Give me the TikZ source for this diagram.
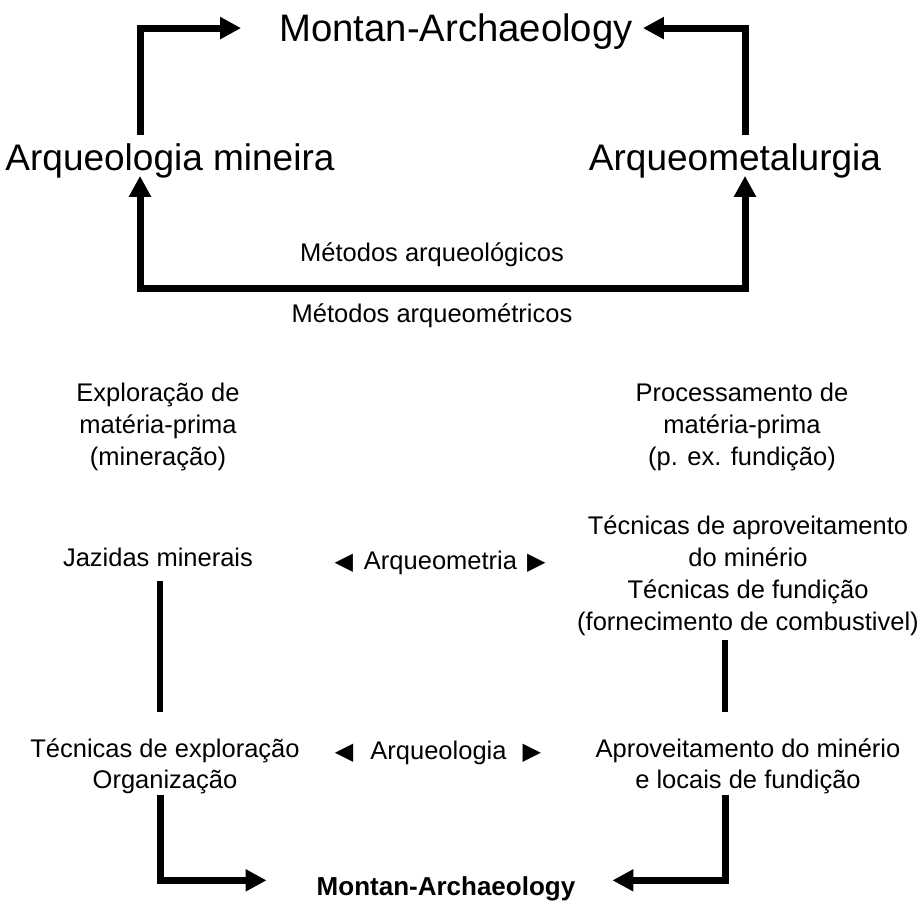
\documentclass[tikz,border=0pt]{standalone}
\usepackage{fontspec}
\setmainfont{Liberation Sans}
\newfontfamily\symfont{DejaVu Sans}
\newcommand\trifont{\symfont\fontsize{24}{24}\selectfont}
\usetikzlibrary{arrows.meta}
\begin{document}
\begin{tikzpicture}[x=1pt,y=-1pt,
  big/.style={font=\fontsize{37}{40}\selectfont, inner sep=0pt, anchor=base},
  mid/.style={font=\fontsize{25.5}{32}\selectfont, align=center, inner sep=0pt, anchor=base},
  low/.style={font=\fontsize{25.5}{31}\selectfont, align=center, inner sep=0pt, anchor=base},
  flow/.style={line width=7pt, -{Triangle[length=21pt,width=21pt]}},
  bar/.style={line width=6.5pt}
]
\useasboundingbox (0,0) rectangle (917,917);

% top part
\node[big, font=\fontsize{38.3}{40}\selectfont] (top) at (456,42) {Montan-Archaeology};
\node[big] (amin) at (170,171) {Arqueologia mineira};
\node[big] (ameta) at (735,171) {Arqueometalurgia};
\node[mid] (met1) at (432,261) {Métodos arqueológicos};
\node[mid] (met2) at (432,322) {Métodos arqueométricos};

\draw[flow, shorten >=38pt] ([xshift=-30pt,yshift=9pt]amin.north) |- ([yshift=4pt]top.west);
\draw[flow, shorten >=10pt] ([xshift=10pt,yshift=9pt]ameta.north) |- ([yshift=4pt]top.east);
\coordinate (ubot) at (440,288);
\draw[line width=7pt, {Triangle[length=21pt,width=21pt]}-{Triangle[length=21pt,width=21pt]}]
  ([xshift=-30pt,yshift=3pt]amin.south) |- (ubot) -| ([xshift=10pt,yshift=3pt]ameta.south);

% lower part (anchor=base of a multi-line node is the last line)
\node[mid] (expl) at (158,465) {Exploração de\\matéria-prima\\(mineração)};
\node[mid] (proc) at (742,465) {Processamento de\\matéria-prima\\(p. ex. fundição)};
\node[mid] (jaz) at (158,566) {Jazidas minerais};
\node[mid] (ametria) at (440,569) {{\trifont ◀}\hspace{11pt}Arqueometria\hspace{10pt}{\trifont ▶}};
\node[mid] (tec) at (748,630) {Técnicas de aproveitamento\\do minério\\Técnicas de fundição\\(fornecimento de combustivel)};
\node[low] (texp) at (165,788) {Técnicas de exploração\\Organização};
\node[mid] (alog) at (438,759) {{\trifont ◀}\hspace{17pt}Arqueologia\hspace{16pt}{\trifont ▶}};
\node[low] (apr) at (748,788) {Aproveitamento do minério\\e locais de fundição};
\node[font=\bfseries\fontsize{26}{30}\selectfont, inner sep=0pt, anchor=base] (mbot) at (446,895) {Montan-Archaeology};

\draw[bar] ([xshift=2pt,yshift=-15pt]jaz.south) -- ([xshift=-5pt,yshift=26pt]texp.north);
\draw[bar] ([xshift=-23pt,yshift=-5pt]tec.south) -- ([xshift=-23pt,yshift=26pt]apr.north);
\draw[flow, shorten >=50pt] ([xshift=-5pt,yshift=-1pt]texp.south) |- ([yshift=8pt]mbot.west);
\draw[flow, shorten >=37pt] ([xshift=-23pt,yshift=-1pt]apr.south) |- ([yshift=8pt]mbot.east);
\end{tikzpicture}
\end{document}
